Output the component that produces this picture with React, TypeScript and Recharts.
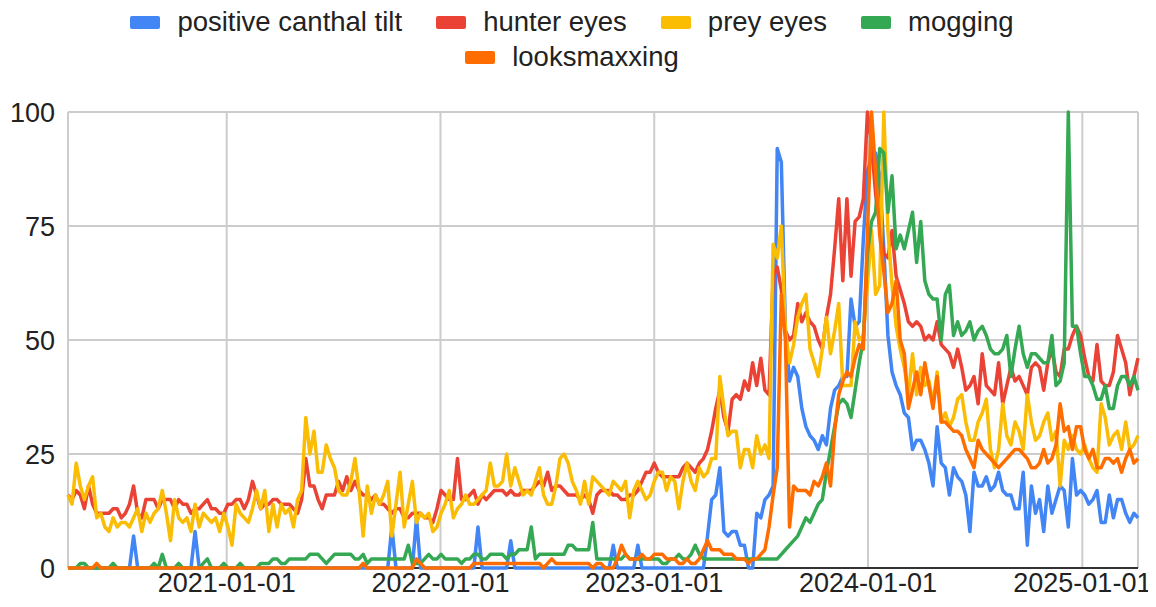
import React from 'react';
import { LineChart, Line, XAxis, YAxis, CartesianGrid, ReferenceLine } from 'recharts';

// Weekly Google-Trends style series, first week starting 2020-04-05
const START_WEEK = Date.UTC(2020, 3, 5);
const WEEK_MS = 7 * 24 * 3600 * 1000;

const positiveCanthalTilt = [
  0,0,0,0,0,0,0,0,0,0,
  0,0,0,0,0,0,7,0,0,0,
  0,0,0,0,0,0,0,0,0,0,
  0,8,0,0,0,0,0,0,0,0,
  0,0,0,0,0,0,0,0,0,0,
  0,0,0,0,0,0,0,0,0,0,
  0,0,0,0,0,0,0,0,0,0,
  0,0,0,0,0,0,0,0,0,9,
  0,0,0,0,0,11,0,0,0,0,
  0,0,0,0,0,0,0,0,0,0,
  9,0,0,0,0,0,0,0,6,0,
  0,0,0,0,0,0,0,0,0,0,
  0,0,0,0,0,0,0,0,0,0,
  0,0,0,5,0,0,0,0,0,5,
  0,0,0,0,0,0,0,0,0,0,
  0,0,0,0,0,0,7,15,16,22,
  8,7,8,8,5,5,0,0,12,11,
  15,16,18,92,89,52,41,44,42,35,
  31,29,28,26,29,27,35,39,40,42,
  42,59,53,54,72,87,90,91,86,70,
  51,43,40,38,34,33,26,28,28,26,
  23,18,31,23,22,16,22,20,19,16,
  8,21,18,18,20,17,18,21,17,16,
  16,13,13,21,5,18,12,15,8,18,
  12,15,18,17,9,24,16,17,16,14,
  15,17,10,10,16,11,15,15,12,10,
  12,11,
];

const hunterEyes = [
  16,15,17,16,13,18,14,12,12,12,
  12,13,13,11,12,14,18,12,11,15,
  15,15,13,15,15,15,13,15,14,14,
  12,13,13,14,15,13,13,12,12,14,
  14,15,15,13,15,19,16,13,14,14,
  15,15,14,14,14,13,12,15,24,18,
  18,15,13,16,16,16,19,17,20,17,
  19,17,16,16,15,16,14,14,13,12,
  13,13,11,11,12,12,12,11,11,10,
  13,17,16,15,15,24,15,15,16,17,
  14,16,15,16,17,17,17,16,17,16,
  16,17,17,17,18,19,18,21,17,18,
  18,17,16,16,16,15,16,15,12,16,
  17,17,17,16,16,15,15,16,16,17,
  19,21,21,23,21,20,20,20,20,20,
  22,23,22,21,23,24,26,30,35,39,
  33,30,37,38,37,41,39,45,40,46,
  39,38,64,66,61,52,50,51,58,54,
  56,54,53,50,48,55,60,70,81,63,
  81,64,76,77,81,100,93,82,75,69,
  68,74,64,61,58,54,53,54,53,50,
  51,50,54,49,48,47,44,48,44,39,
  40,42,36,47,40,39,38,45,36,40,
  44,41,42,40,38,44,45,44,39,45,
  48,43,42,48,48,51,53,51,46,42,
  41,49,41,40,40,43,51,48,45,38,
  42,46,
];

const preyEyes = [
  16,14,23,18,15,18,20,11,12,9,
  8,11,9,10,10,9,11,13,8,12,
  10,12,13,17,12,6,15,11,10,11,
  8,14,9,12,11,10,11,8,12,9,
  5,14,12,11,10,13,17,13,17,8,
  14,9,14,12,13,9,15,17,33,25,
  30,21,21,27,24,22,17,16,16,19,
  24,17,7,18,12,16,14,16,19,7,
  14,21,9,14,19,10,12,11,12,8,
  9,12,14,17,11,13,14,16,14,14,
  15,16,17,23,18,18,19,25,18,22,
  19,16,17,16,19,22,16,14,14,18,
  24,25,23,19,17,14,19,14,20,19,
  18,17,16,19,18,17,19,11,17,19,
  17,15,16,19,21,21,17,20,19,13,
  19,23,19,17,22,20,21,24,24,42,
  35,29,30,30,22,26,26,22,29,25,
  27,24,71,68,75,52,45,49,55,58,
  60,48,45,42,48,55,47,52,58,40,
  40,40,54,50,51,62,74,60,62,100,
  74,62,53,48,44,38,47,38,44,40,
  41,36,43,32,34,31,33,37,38,32,
  28,28,32,34,37,26,22,26,36,29,
  27,32,30,26,38,32,28,29,32,34,
  28,30,18,28,26,29,26,25,27,24,
  22,21,36,33,27,29,30,26,32,26,
  27,29,
];

const mogging = [
  0,0,0,1,1,0,0,0,0,0,
  0,1,0,0,0,0,0,0,0,0,
  0,1,0,3,0,0,0,1,0,0,
  0,0,0,1,2,0,0,0,1,0,
  0,0,1,0,0,0,0,1,1,1,
  2,2,1,1,2,2,2,2,2,3,
  3,3,2,1,2,3,3,3,3,3,
  2,2,3,1,2,2,2,2,2,2,
  2,2,2,5,1,1,1,2,3,2,
  2,3,2,2,2,2,1,2,2,3,
  3,2,2,3,3,3,3,2,3,3,
  4,4,4,9,2,3,3,3,3,3,
  3,3,5,5,4,4,4,4,10,2,
  2,2,2,2,2,2,3,2,2,2,
  2,2,2,2,2,1,1,2,2,3,
  2,2,3,5,3,2,2,2,2,2,
  2,2,2,2,2,2,2,2,2,2,
  2,2,2,2,3,4,5,6,7,9,
  11,10,12,14,15,21,26,31,36,37,
  36,33,39,45,50,69,76,78,92,91,
  78,86,70,73,70,74,78,67,76,63,
  60,59,59,50,60,62,51,54,51,52,
  54,50,52,53,51,48,47,47,48,51,
  42,48,53,47,44,47,47,46,45,45,
  51,40,41,45,100,53,53,47,42,42,
  40,37,37,40,35,35,40,42,42,40,
  42,39,
];

const looksmaxxing = [
  0,0,0,0,0,0,0,1,0,0,
  0,0,0,0,0,0,0,0,0,0,
  0,0,0,0,0,0,0,0,0,0,
  0,0,0,0,0,0,0,0,0,0,
  0,0,0,0,0,0,0,0,0,0,
  0,0,0,0,0,0,0,0,0,0,
  0,0,0,0,0,0,0,0,0,0,
  0,0,1,0,0,0,0,0,0,0,
  0,0,0,0,0,2,1,0,0,0,
  0,0,0,0,0,0,0,0,0,1,
  1,1,1,1,1,1,1,1,1,1,
  1,1,1,1,1,1,0,1,2,1,
  1,1,1,1,1,1,1,1,0,1,
  1,0,0,0,2,5,3,2,2,2,
  3,2,2,3,3,3,2,2,2,1,
  1,2,1,1,2,4,6,4,4,4,
  3,3,3,2,2,2,1,2,2,3,
  4,9,16,22,60,50,9,18,17,17,
  17,16,19,18,20,23,18,30,38,41,
  43,42,46,49,48,73,100,87,73,65,
  56,58,63,50,47,35,39,43,38,45,
  40,35,42,32,32,31,30,30,29,26,
  24,22,28,26,25,24,23,22,23,24,
  25,26,26,25,24,22,22,23,26,23,
  24,27,36,30,31,26,31,31,26,24,
  26,22,22,24,24,23,24,21,24,26,
  23,24,
];

const weekDates = positiveCanthalTilt.map((_, i) => START_WEEK + i * WEEK_MS);
const yearTicks = [2021, 2022, 2023, 2024, 2025].map((y) => Date.UTC(y, 0, 1));
const valueTicks = [0, 25, 50, 75, 100];

const SERIES = [
  { key: 'pct', name: 'positive canthal tilt', color: '#4285F4', values: positiveCanthalTilt },
  { key: 'hunter', name: 'hunter eyes', color: '#EA4335', values: hunterEyes },
  { key: 'prey', name: 'prey eyes', color: '#FBBC04', values: preyEyes },
  { key: 'mog', name: 'mogging', color: '#34A853', values: mogging },
  { key: 'looks', name: 'looksmaxxing', color: '#FF6D01', values: looksmaxxing },
];

const data = weekDates.map((t, i) => {
  const row: Record<string, number> = { t };
  SERIES.forEach((s) => {
    row[s.key] = s.values[i];
  });
  return row;
});

const FONT = 'Arial, "Liberation Sans", Helvetica, sans-serif';
const TEXT = '#222222';

const fmtDate = (t: number) => {
  const d = new Date(t);
  return `${d.getUTCFullYear()}-01-01`;
};

const LegendItem = ({ color, name, last }: { color: string; name: string; last?: boolean }) => (
  <div style={{ display: 'flex', alignItems: 'center', marginRight: last ? 0 : 34 }}>
    <span
      style={{
        display: 'inline-block',
        width: 30,
        height: 13,
        background: color,
        borderRadius: 2,
        marginRight: 17,
      }}
    />
    <span style={{ fontSize: 27.5, color: TEXT, lineHeight: '30px', whiteSpace: 'nowrap' }}>{name}</span>
  </div>
);

const rowStyle = (top: number): React.CSSProperties => ({
  position: 'absolute',
  top,
  left: 0,
  width: 1128,
  height: 30,
  display: 'flex',
  justifyContent: 'center',
  alignItems: 'center',
});

export default function App() {
  return (
    <div style={{ position: 'relative', width: 1148, height: 591, fontFamily: FONT }}>
      <div style={rowStyle(-1)}>
        {SERIES.slice(0, 4).map((s, i) => (
          <LegendItem key={s.key} color={s.color} name={s.name} last={i === 3} />
        ))}
      </div>
      <div style={rowStyle(34)}>
        <LegendItem color={SERIES[4].color} name={SERIES[4].name} last />
      </div>
      <LineChart
        width={1148}
        height={591}
        data={data}
        margin={{ top: 104, right: 18, bottom: 0, left: 0 }}
      >
        <CartesianGrid stroke="#cccccc" strokeWidth={2} vertical horizontal />
        <XAxis
          dataKey="t"
          type="number"
          scale="time"
          domain={[weekDates[0], weekDates[weekDates.length - 1]]}
          ticks={yearTicks}
          tickFormatter={fmtDate}
          axisLine={false}
          tickLine={false}
          tickSize={0}
          tickMargin={5}
          height={31}
          interval={0}
          tick={{ fontSize: 27, fill: TEXT, fontFamily: FONT }}
        />
        <YAxis
          type="number"
          domain={[0, 100]}
          ticks={valueTicks}
          axisLine={false}
          tickLine={false}
          tickSize={0}
          tickMargin={13}
          width={60}
          interval={0}
          tick={{ fontSize: 27, fill: TEXT, fontFamily: FONT }}
        />
        <ReferenceLine y={0} stroke="#333333" strokeWidth={2} />
        {SERIES.map((s) => (
          <Line
            key={s.key}
            type="linear"
            dataKey={s.key}
            name={s.name}
            stroke={s.color}
            strokeWidth={3.5}
            strokeLinejoin="round"
            dot={false}
            activeDot={false}
            isAnimationActive={false}
          />
        ))}
      </LineChart>
    </div>
  );
}
